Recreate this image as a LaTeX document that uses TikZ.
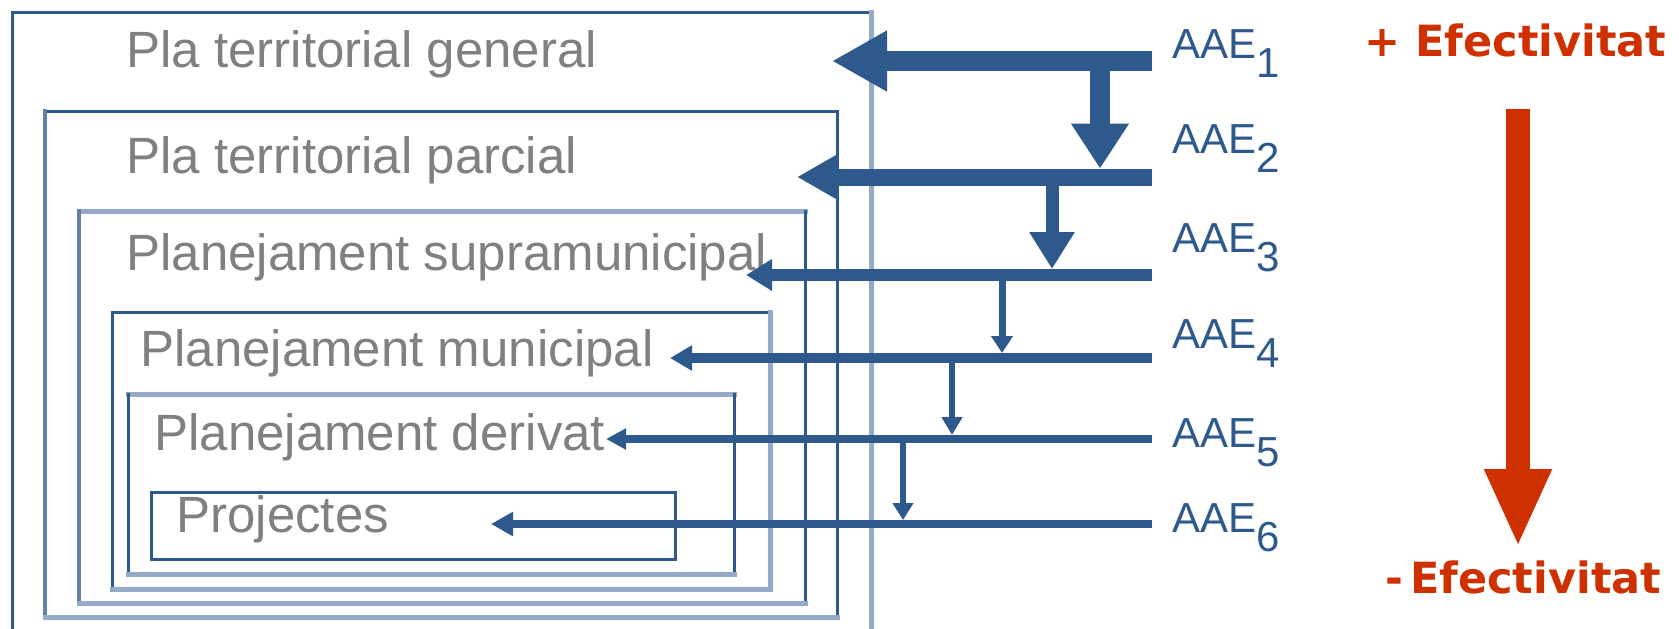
\documentclass[tikz,border=0pt]{standalone}
\usepackage{fontspec}
\setmainfont{Liberation Sans}
\newfontfamily\effont{DejaVu Sans}
\usepackage{tikz}
\usetikzlibrary{positioning}
\usetikzlibrary{fit}
\usetikzlibrary{arrows.meta}

\definecolor{aaedark}{RGB}{46,89,140}
\definecolor{aaemid}{RGB}{98,128,168}
\definecolor{aaelight}{RGB}{148,170,198}
\definecolor{titlegray}{RGB}{128,128,128}
\definecolor{effred}{RGB}{207,48,0}

\tikzset{
	box/.style={inner sep=0pt, outer sep=0pt},
	darkedge/.style={draw=aaedark, line width=1.5pt, line cap=rect},
	midedge/.style={draw=aaemid, line width=2pt, line cap=rect},
	lightedge/.style={draw=aaelight, line width=2.5pt, line cap=rect},
	title/.style={anchor=base west, inner sep=0pt, text=titlegray, font=\fontsize{25.5}{29}\selectfont},
	aae/.style={anchor=base west, inner sep=0pt, text=aaedark, font=\fontsize{21}{25}\selectfont},
	eff/.style={anchor=base west, inner sep=0pt, text=effred, font=\effont\bfseries\fontsize{21.5}{26}\selectfont},
	flow/.style={draw=aaedark, line width=#1},
}
\newcommand{\aaelabel}[1]{AAE\raisebox{-9.5pt}{#1}}

\begin{document}
\begin{tikzpicture}[x=0.5pt, y=-0.5pt]
		\useasboundingbox (0,0) rectangle (1679,628);
		% nested plans
		\node [box, fit={(12,12) (871,640)}] (gen) {};
		\node [box, fit={(45,111) (837,617)}] (par) {};
		\node [box, fit={(79,211) (805,603)}] (sup) {};
		\node [box, fit={(112,312) (770,589)}] (mun) {};
		\node [box, fit={(128,394) (734,574)}] (der) {};
		\node [box, fit={(151,492) (675,559)}] (proj) {};
		\draw [darkedge] (gen.south west) |- (gen.north east);
		\draw [lightedge] (gen.north east) -- (gen.south east);
		\draw [darkedge] (par.north west) -| (par.south east);
		\draw [midedge] (par.north west) -- (par.south west);
		\draw [lightedge] (par.south west) -- (par.south east);
		\draw [lightedge] (sup.north west) -- (sup.north east);
		\draw [midedge] (sup.north west) -- (sup.south west);
		\draw [darkedge] (sup.north east) -- (sup.south east);
		\draw [lightedge] (sup.south west) -- (sup.south east);
		\draw [darkedge] (mun.south west) |- (mun.north east);
		\draw [lightedge] (mun.north east) |- (mun.south west);
		\draw [lightedge] (der.north west) -- (der.north east);
		\draw [darkedge] (der.north west) -- (der.south west);
		\draw [darkedge] (der.north east) -- (der.south east);
		\draw [lightedge] (der.south west) -- (der.south east);
		\draw [darkedge] (proj.north west) rectangle (proj.south east);
		\node [title] (tgen) at (126,67) {Pla territorial general};
		\node [title] (tpar) at (126,173) {Pla territorial parcial};
		\node [title] (tsup) at (126,270) {Planejament supramunicipal};
		\node [title] (tmun) at (140,366) {Planejament municipal};
		\node [title] (tder) at (154,450) {Planejament derivat};
		\node [title] (tproj) at (176,532) {Projectes};
		% levels
		\coordinate (r1) at (1152,61);
		\coordinate (r2) at (1152,177);
		\coordinate (r3) at (1152,275);
		\coordinate (r4) at (1152,358);
		\coordinate (r5) at (1152,439);
		\coordinate (r6) at (1152,524);
		\coordinate (t1) at (832,61);
		\coordinate (t2) at (797,177);
		\coordinate (t3) at (746,275);
		\coordinate (t4) at (670,358);
		\coordinate (t5) at (606,439);
		\coordinate (t6) at (491,524);
		\draw [flow=10pt, -{Triangle[length=27.5pt, width=28.5pt]}] (r1) -- (t1);
		\draw [flow=8.5pt, -{Triangle[length=20pt, width=21pt]}] (r2) -- (t2);
		\draw [flow=6pt, -{Triangle[length=13pt, width=15pt]}] (r3) -- (t3);
		\draw [flow=5pt, -{Triangle[length=11pt, width=12pt]}] (r4) -- (t4);
		\draw [flow=4pt, -{Triangle[length=10pt, width=10pt]}] (r5) -- (t5);
		\draw [flow=4pt, -{Triangle[length=11pt, width=11.5pt]}] (r6) -- (t6);
		% cascade
		\coordinate (d1) at (1100,61);
		\coordinate (d2) at (1052,177);
		\coordinate (d3) at (1002,275);
		\coordinate (d4) at (952,358);
		\coordinate (d5) at (903,439);
		\draw [flow=10pt, shorten >=4.25pt, -{Triangle[length=22.5pt, width=27.5pt]}] (d1) -- (d1 |- r2);
		\draw [flow=6.5pt, shorten >=3pt, -{Triangle[length=18.5pt, width=21.5pt]}] (d2) -- (d2 |- r3);
		\draw [flow=3.5pt, shorten >=2.5pt, -{Triangle[length=8.5pt, width=10.5pt]}] (d3) -- (d3 |- r4);
		\draw [flow=3pt, shorten >=2pt, -{Triangle[length=9pt, width=10pt]}] (d4) -- (d4 |- r5);
		\draw [flow=3pt, shorten >=2pt, -{Triangle[length=8.5pt, width=10pt]}] (d5) -- (d5 |- r6);
		\node [aae] (a1) at (1172,58) {\aaelabel{1}};
		\node [aae] (a2) at (1172,153) {\aaelabel{2}};
		\node [aae] (a3) at (1172,252) {\aaelabel{3}};
		\node [aae] (a4) at (1172,348) {\aaelabel{4}};
		\node [aae] (a5) at (1172,447) {\aaelabel{5}};
		\node [aae] (a6) at (1172,532) {\aaelabel{6}};
		% effectiveness
		\node [eff] (effhi) at (1364,56) {+ Efectivitat};
		\node [eff] (efflo) at (1385,593) {-\kern3.5pt Efectivitat};
		\coordinate (etop) at (1518,109);
		\coordinate (ebot) at (1518,547);
		\draw [draw=effred, line width=12pt, -{Triangle[length=39pt, width=31pt]}] (etop) -- (ebot);
		
		\end{tikzpicture}
\end{document}
